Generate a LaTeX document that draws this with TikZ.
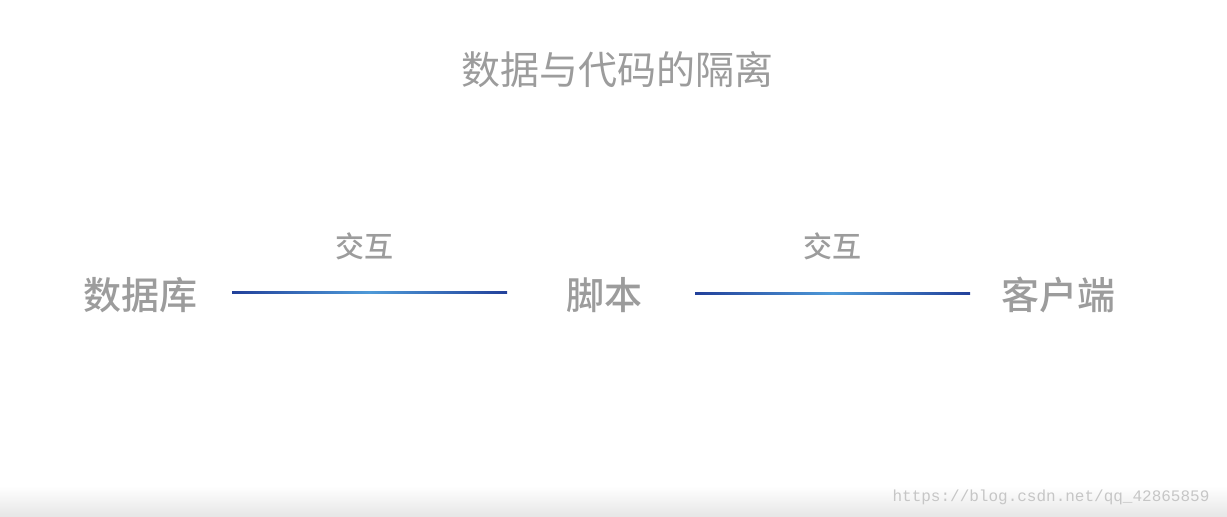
\documentclass[tikz,border=0pt]{standalone}
\usepackage{fontspec}
\setmainfont{Noto Sans CJK SC}
\newfontfamily\medfont{Noto Sans CJK SC Medium}
\setmonofont{Liberation Mono}
\usetikzlibrary{positioning}
\definecolor{txtgrey}{HTML}{9C9C9C}
\definecolor{wmgrey}{HTML}{C6C6C6}
\definecolor{lnend}{HTML}{22409A}
\definecolor{lnmid}{HTML}{4E9AD8}
\definecolor{bandgrey}{HTML}{E6E6E6}
\tikzset{
  titletext/.style={text=txtgrey, font=\fontsize{39}{46}\selectfont, inner sep=0pt},
  boxlabel/.style={text=txtgrey, font=\medfont\fontsize{38}{46}\selectfont, inner sep=0pt},
  linklabel/.style={text=txtgrey, font=\medfont\fontsize{29}{34}\selectfont, inner sep=0pt},
  wmtext/.style={text=wmgrey, font=\ttfamily\fontsize{16}{18}\selectfont, inner sep=0pt},
  linkline/.style={left color=lnend, right color=lnend, middle color=lnmid}
}
\begin{document}
\begin{tikzpicture}[x=1pt,y=-1pt]
\useasboundingbox (0,0) rectangle (1227,517);
\fill[white] (0,0) rectangle (1227,517);
\shade[top color=white, bottom color=bandgrey] (0,486) rectangle (1227,517);
\node[titletext] (title) at (617,70) {数据与代码的隔离};
\node[boxlabel] (db) at (140,295) {数据库};
\node[boxlabel] (script) at (604,295) {脚本};
\node[boxlabel] (client) at (1058,295) {客户端};
\node[linklabel] (lab1) at (364,246) {交互};
\node[linklabel] (lab2) at (832,246) {交互};
\coordinate (l1a) at (232,291.2);
\coordinate (l1b) at (507,293.2);
\coordinate (l2a) at (695,292.2);
\coordinate (l2b) at (970,294.2);
\shade[linkline] (l1a) rectangle (l1b);
\shade[linkline] (l2a) rectangle (l2b);
\node[wmtext] (wm) at (1051,497) {https://blog.csdn.net/qq\_42865859};
\end{tikzpicture}
\end{document}
